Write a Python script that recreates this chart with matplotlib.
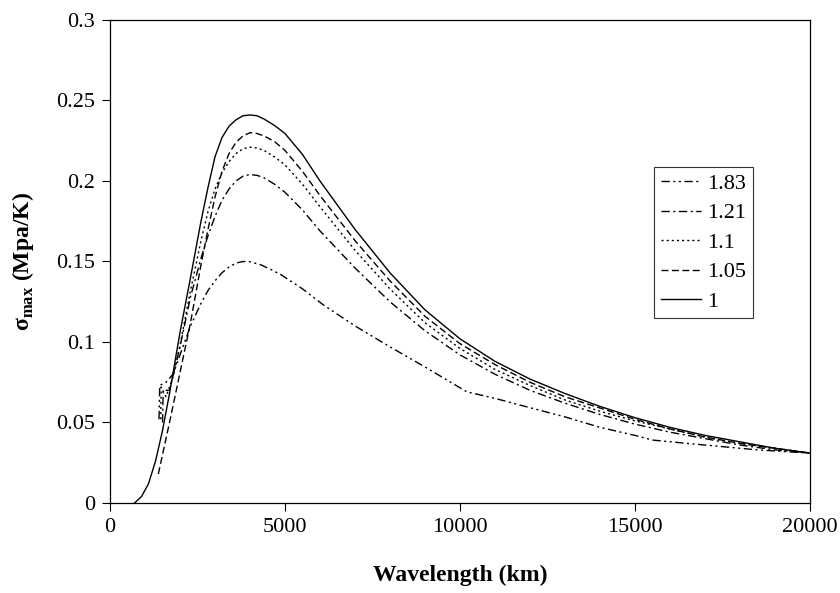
import matplotlib
matplotlib.use("Agg")
import matplotlib.pyplot as plt
from matplotlib.ticker import FuncFormatter

plt.rcParams["font.family"] = ["Liberation Serif", "DejaVu Serif"]
plt.rcParams["mathtext.fontset"] = "custom"
plt.rcParams["mathtext.rm"] = "Liberation Serif"
plt.rcParams["mathtext.bf"] = "Liberation Serif:bold"

# wavelength (km) and sigma_max (Mpa/K)
x_1 = [700, 900, 1100, 1300, 1500, 1700, 2000, 2300, 2600, 2800, 3000, 3200,
       3400, 3600, 3800, 4000, 4200, 4400, 4700, 5000, 5500, 6000, 7000, 8000,
       9000, 10000, 11000, 12000, 13000, 14000, 15000, 16000, 17000, 18000,
       19000, 20000]
y_1 = [0.000, 0.004, 0.012, 0.026, 0.045, 0.068, 0.106, 0.140, 0.175, 0.196,
       0.215, 0.227, 0.234, 0.238, 0.2405, 0.241, 0.2405, 0.2385, 0.2345,
       0.2295, 0.2165, 0.200, 0.170, 0.143, 0.120, 0.102, 0.088, 0.077, 0.068,
       0.060, 0.053, 0.047, 0.042, 0.038, 0.034, 0.031]

x_105 = [1380, 1500, 1700, 2000, 2300, 2600, 2800, 3000, 3200, 3400, 3600,
         3800, 4000, 4200, 4400, 4700, 5000, 5500, 6000, 7000, 8000, 9000,
         10000, 11000, 12000, 13000, 14000, 15000, 16000, 17000, 18000, 19000,
         20000]
y_105 = [0.018, 0.030, 0.050, 0.081, 0.112, 0.148, 0.170, 0.190, 0.206, 0.217,
         0.224, 0.228, 0.230, 0.2295, 0.228, 0.2245, 0.219, 0.206, 0.191, 0.163,
         0.138, 0.116, 0.099, 0.086, 0.075, 0.066, 0.059, 0.052, 0.046, 0.041,
         0.037, 0.034, 0.031]

x_11 = [1450, 1460, 1600, 1800, 2000, 2300, 2600, 2800, 3000, 3200, 3400,
        3600, 3800, 4000, 4200, 4400, 4700, 5000, 5500, 6000, 7000, 8000, 9000,
        10000, 11000, 12000, 13000, 14000, 15000, 16000, 17000, 18000, 19000,
        20000]
y_11 = [0.052, 0.072, 0.066, 0.078, 0.098, 0.132, 0.163, 0.181, 0.195, 0.205,
        0.212, 0.217, 0.220, 0.221, 0.2205, 0.219, 0.215, 0.210, 0.198, 0.184,
        0.157, 0.133, 0.112, 0.096, 0.083, 0.073, 0.064, 0.057, 0.051, 0.046,
        0.041, 0.037, 0.034, 0.031]

x_121 = [1500, 1520, 1700, 2000, 2300, 2600, 2800, 3000, 3200, 3400, 3600,
         3800, 4000, 4200, 4400, 4700, 5000, 5500, 6000, 7000, 8000, 9000,
         10000, 11000, 12000, 13000, 14000, 15000, 16000, 17000, 18000, 19000,
         20000]
y_121 = [0.050, 0.070, 0.070, 0.097, 0.128, 0.152, 0.166, 0.178, 0.188, 0.195,
         0.200, 0.203, 0.204, 0.2035, 0.202, 0.198, 0.193, 0.182, 0.169, 0.146,
         0.125, 0.107, 0.092, 0.080, 0.070, 0.062, 0.055, 0.049, 0.044, 0.040,
         0.036, 0.033, 0.031]

x_183 = [1400, 1420, 1600, 1800, 2000, 2300, 2600, 2800, 3000, 3200, 3400,
         3600, 3800, 4000, 4300, 4600, 4900, 5500, 6100, 7000, 8000, 9000,
         10000, 10200, 11000, 12000, 13000, 14000, 15000, 15500, 16500, 17500,
         18500, 20000]
y_183 = [0.052, 0.073, 0.075, 0.080, 0.092, 0.110, 0.124, 0.132, 0.138, 0.143,
         0.1465, 0.149, 0.150, 0.1498, 0.148, 0.145, 0.1416, 0.133, 0.123,
         0.110, 0.097, 0.0845, 0.0716, 0.069, 0.065, 0.0592, 0.0535, 0.047,
         0.042, 0.0391, 0.037, 0.035, 0.033, 0.031]

fig = plt.figure(figsize=(8.4, 5.93), dpi=100)
ax = fig.add_axes([0.131, 0.1518, 0.833, 0.8145])

lw = 1.0
ax.plot(x_183, y_183, color="black", lw=lw, linestyle=(0, (6, 2.5, 1.5, 2.5, 1.5, 2.5)), label="1.83")
ax.plot(x_121, y_121, color="black", lw=lw, linestyle=(0, (6, 2.5, 1.5, 2.5)), label="1.21")
ax.plot(x_11, y_11, color="black", lw=lw, linestyle=(0, (1.5, 2.2)), label="1.1")
ax.plot(x_105, y_105, color="black", lw=lw, linestyle=(0, (5, 2.5)), label="1.05")
ax.plot(x_1, y_1, color="black", lw=lw, linestyle="-", label="1")

ax.set_xlim(0, 20000)
ax.set_ylim(0, 0.3)
ax.set_xticks([0, 5000, 10000, 15000, 20000])
ax.set_yticks([0, 0.05, 0.1, 0.15, 0.2, 0.25, 0.3])
ax.yaxis.set_major_formatter(FuncFormatter(lambda v, p: f"{v:g}"))
ax.tick_params(direction="out", length=6, width=0.8, labelsize=16, color="black")
ax.tick_params(axis="y", pad=5)
ax.tick_params(axis="x", pad=5)
for sp in ax.spines.values():
    sp.set_linewidth(0.9)
    sp.set_color("black")

ax.set_xlabel("Wavelength (km)", fontsize=17, fontweight="bold", labelpad=20)
ax.set_ylabel(r"$\mathbf{\sigma}_{\mathbf{max}}$ (Mpa/K)", fontsize=17,
              fontweight="bold", labelpad=14)

leg = ax.legend(loc="upper right", bbox_to_anchor=(0.919, 0.696), borderaxespad=0,
                fontsize=16, frameon=True, fancybox=False, handlelength=1.8,
                handletextpad=0.3, labelspacing=0.4, borderpad=0.3)
leg.get_frame().set_edgecolor("black")
leg.get_frame().set_linewidth(0.8)

fig.savefig("out.png", dpi=100)
